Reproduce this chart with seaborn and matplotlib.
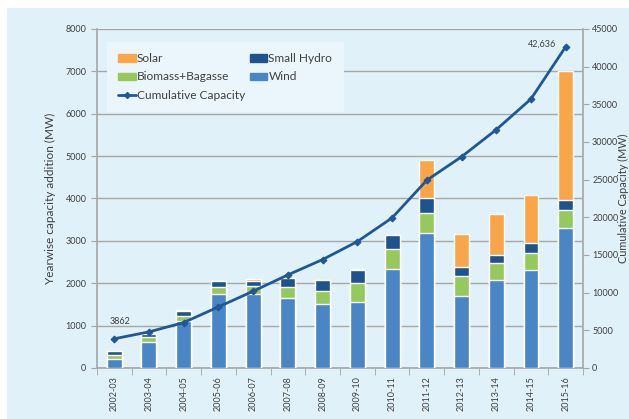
import numpy as np
import pandas as pd
import matplotlib
matplotlib.use("Agg")
import matplotlib.pyplot as plt
import seaborn as sns
from matplotlib.patches import Patch, Rectangle
from matplotlib.lines import Line2D

# data (MW)
years = ["2002-03", "2003-04", "2004-05", "2005-06", "2006-07", "2007-08", "2008-09",
         "2009-10", "2010-11", "2011-12", "2012-13", "2013-14", "2014-15", "2015-16"]
wind = [215, 610, 1100, 1732, 1732, 1654, 1496, 1551, 2331, 3189, 1701, 2079, 2307, 3299]
biomass = [95, 120, 135, 181, 197, 251, 314, 441, 480, 472, 456, 393, 394, 425]
small_hydro = [85, 72, 110, 133, 133, 221, 260, 315, 315, 339, 229, 197, 252, 228]
solar = [15, 25, 15, 0, 24, 0, 0, 16, 16, 913, 764, 953, 1125, 3048]
cumulative = [3862, 4780, 6018, 8097, 10177, 12345, 14380, 16770, 19912, 24912,
              28026, 31623, 35702, 42636]

c_wind = "#4A85C6"
c_bio = "#95C95B"
c_hydro = "#1E538D"
c_solar = "#F9A54A"
c_line = "#1F5894"
bg = "#E1F1F9"
txt = "#404040"
grid_c = "#A6A6A6"

sns.set_style("white")
plt.rcParams['font.family'] = ['Lato', 'DejaVu Sans']
plt.rcParams['text.color'] = txt
plt.rcParams['axes.labelcolor'] = txt
plt.rcParams['xtick.color'] = txt
plt.rcParams['ytick.color'] = txt

df = pd.DataFrame({"year": years, "wind": wind, "biomass": biomass,
                   "hydro": small_hydro, "solar": solar, "cum": cumulative})
df["l1"] = df["wind"]
df["l2"] = df["l1"] + df["biomass"]
df["l3"] = df["l2"] + df["hydro"]
df["l4"] = df["l3"] + df["solar"]

fig = plt.figure(figsize=(6.29, 4.19), dpi=100, facecolor="white")
fig.patches.append(Rectangle((7 / 629, 0), 1, 1 - 8 / 419, transform=fig.transFigure,
                             facecolor=bg, edgecolor="none", zorder=-10))

ax = fig.add_axes([0.154, 0.122, 0.773, 0.809])
ax.set_facecolor(bg)

# stacked bars: draw the running totals from the top layer down
for col, colr in [("l4", c_solar), ("l3", c_hydro), ("l2", c_bio), ("l1", c_wind)]:
    sns.barplot(data=df, x="year", y=col, color=colr, saturation=1, width=0.43,
                ax=ax, zorder=3)

ax.set_ylim(0, 8000)
ax.set_yticks(np.arange(0, 8001, 1000))
ax.yaxis.grid(True, color=grid_c, lw=1, zorder=0)
ax.set_axisbelow(True)
ax.set_xlabel("")
ax.set_ylabel("Yearwise capacity addition (MW)", fontsize=8.5, labelpad=7)
ax.tick_params(axis="y", labelsize=6.5, direction="out", length=4, color=grid_c, left=True)
ax.tick_params(axis="x", labelsize=6.5, labelrotation=90, length=0, pad=6)
ax.set_xticks(np.arange(-0.5, len(years), 1), minor=True)
ax.tick_params(axis="x", which="minor", direction="out", length=5, color=grid_c, bottom=True)
for s in ["top", "right"]:
    ax.spines[s].set_visible(False)
for s in ["left", "bottom"]:
    ax.spines[s].set_color(grid_c)
    ax.spines[s].set_linewidth(1.2)

ax2 = ax.twinx()
sns.lineplot(x=np.arange(len(years)), y=df["cum"], ax=ax2, color=c_line, lw=2,
             marker="D", markersize=3.5, markeredgecolor=c_line)
ax2.set_ylim(0, 45000)
ax2.set_yticks(np.arange(0, 45001, 5000))
ax2.set_ylabel("Cumulative Capacity (MW)", fontsize=7.8)
ax2.yaxis.set_label_coords(1.0715, 0.5)
ax2.tick_params(axis="y", labelsize=6.5, direction="out", length=4, pad=2.5,
                color=grid_c, right=True)
for s in ["top", "left", "bottom"]:
    ax2.spines[s].set_visible(False)
ax2.spines["right"].set_color(grid_c)
ax2.spines["right"].set_linewidth(1.2)
ax.set_xlim(-0.5, len(years) - 0.5)

ax2.annotate(f"{cumulative[0]}", xy=(0, cumulative[0]), xytext=(4, 11),
             textcoords="offset points", ha="center", fontsize=6.5, color=txt)
ax2.annotate(f"{cumulative[-1]:,}", xy=(len(years) - 1, cumulative[-1]), xytext=(-7, 2),
             textcoords="offset points", ha="right", va="center", fontsize=6.5, color=txt)

handles = [Patch(color=c_solar, label="Solar"),
           Patch(color=c_bio, label="Biomass+Bagasse"),
           Line2D([], [], color=c_line, lw=2, marker="D", markersize=3, label="Cumulative Capacity"),
           Patch(color=c_hydro, label="Small Hydro"),
           Patch(color=c_wind, label="Wind")]
leg = ax2.legend(handles=handles, ncol=2, loc="upper left", bbox_to_anchor=(0.170, 0.900),
                 bbox_transform=fig.transFigure, borderaxespad=0, fontsize=8.6,
                 frameon=True, facecolor="#EBF6FC", edgecolor="none", framealpha=1,
                 fancybox=False, handlelength=1.45, handleheight=0.55, handletextpad=0.1,
                 columnspacing=0.4, labelspacing=0.6, borderpad=0.95)
for t in leg.get_texts():
    t.set_color(txt)

fig.savefig("out.png", dpi=100, facecolor=fig.get_facecolor())
